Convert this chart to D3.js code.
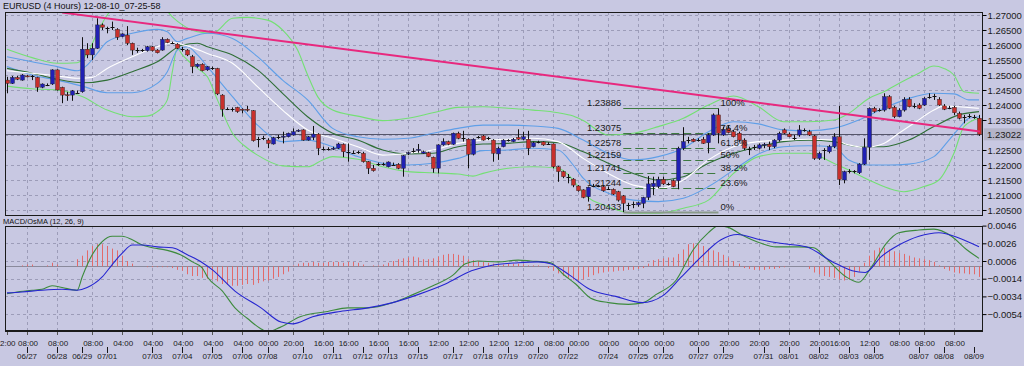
<!DOCTYPE html>
<html>
<head>
<meta charset="utf-8">
<script src="https://cdn.jsdelivr.net/npm/d3@7"></script>
<style>
  body { margin: 0; background: #c8c8e2; }
  svg { display: block; font-family: "Liberation Sans", Arial, sans-serif; }
</style>
</head>
<body>
<svg width="1024" height="366"></svg>
<script>
// ---- data (EURUSD, 4 hour candles) ----
const candleOpen = [
  1.2483,1.2472,1.2492,1.2483,1.2497,1.2497,1.2492,1.2459,1.2468,1.2470,
  1.2517,1.2459,1.2434,1.2433,1.2442,1.2444,1.2586,1.2567,1.2589,1.2667,
  1.2659,1.2661,1.2652,1.2628,1.2633,1.2606,1.2584,1.2583,1.2581,1.2594,
  1.2583,1.2583,1.2619,1.2608,1.2603,1.2587,1.2583,1.2561,1.2528,1.2536,
  1.2517,1.2523,1.2522,1.2433,1.2389,1.2389,1.2392,1.2386,1.2386,1.2381,
  1.2289,1.2292,1.2283,1.2270,1.2292,1.2294,1.2294,1.2300,1.2314,1.2317,
  1.2283,1.2292,1.2303,1.2253,1.2252,1.2254,1.2256,1.2269,1.2244,1.2242,
  1.2241,1.2239,1.2211,1.2189,1.2203,1.2202,1.2194,1.2202,1.2202,1.2189,
  1.2239,1.2247,1.2250,1.2239,1.2241,1.2226,1.2189,1.2267,1.2278,1.2269,
  1.2306,1.2290,1.2286,1.2236,1.2291,1.2297,1.2288,1.2283,1.2237,1.2261,
  1.2281,1.2278,1.2292,1.2286,1.2286,1.2261,1.2277,1.2277,1.2272,1.2270,
  1.2194,1.2178,1.2161,1.2153,1.2130,1.2117,1.2094,1.2130,1.2130,1.2128,
  1.2122,1.2119,1.2111,1.2097,1.2067,1.2070,1.2067,1.2072,1.2092,1.2128,
  1.2128,1.2152,1.2137,1.2148,1.2148,1.2256,1.2282,1.2286,1.2283,1.2286,
  1.2274,1.2300,1.2367,1.2300,1.2322,1.2311,1.2306,1.2283,1.2252,1.2259,
  1.2256,1.2267,1.2269,1.2261,1.2283,1.2317,1.2303,1.2292,1.2300,1.2317,
  1.2311,1.2297,1.2222,1.2250,1.2244,1.2261,1.2294,1.2150,1.2178,1.2178,
  1.2174,1.2203,1.2259,1.2389,1.2382,1.2383,1.2428,1.2392,1.2361,1.2383,
  1.2419,1.2397,1.2400,1.2400,1.2427,1.2429,1.2419,1.2397,1.2392,1.2392,
  1.2372,1.2361,1.2363,1.2361,1.2356
];
const candleHigh = [
  1.2494,1.2497,1.2497,1.2503,1.2500,1.2500,1.2494,1.2472,1.2472,1.2519,
  1.2519,1.2461,1.2444,1.2450,1.2448,1.2626,1.2606,1.2606,1.2689,1.2672,
  1.2661,1.2678,1.2656,1.2639,1.2663,1.2608,1.2591,1.2587,1.2597,1.2597,
  1.2586,1.2626,1.2622,1.2611,1.2606,1.2594,1.2586,1.2567,1.2539,1.2539,
  1.2530,1.2528,1.2524,1.2436,1.2392,1.2392,1.2394,1.2389,1.2397,1.2383,
  1.2294,1.2297,1.2289,1.2294,1.2300,1.2311,1.2308,1.2322,1.2319,1.2319,
  1.2297,1.2330,1.2306,1.2261,1.2259,1.2261,1.2274,1.2272,1.2272,1.2248,
  1.2248,1.2244,1.2213,1.2200,1.2208,1.2208,1.2212,1.2208,1.2206,1.2233,
  1.2244,1.2256,1.2270,1.2248,1.2244,1.2228,1.2269,1.2289,1.2281,1.2308,
  1.2311,1.2314,1.2289,1.2289,1.2297,1.2300,1.2294,1.2286,1.2261,1.2286,
  1.2286,1.2290,1.2319,1.2311,1.2314,1.2278,1.2281,1.2279,1.2276,1.2272,
  1.2197,1.2181,1.2170,1.2156,1.2133,1.2119,1.2128,1.2137,1.2134,1.2132,
  1.2128,1.2122,1.2114,1.2100,1.2074,1.2078,1.2078,1.2094,1.2163,1.2161,
  1.2161,1.2161,1.2141,1.2152,1.2261,1.2326,1.2294,1.2289,1.2289,1.2294,
  1.2306,1.2372,1.23886,1.2328,1.2333,1.2317,1.2311,1.2289,1.2261,1.2267,
  1.2272,1.2274,1.2278,1.2286,1.2311,1.2322,1.2308,1.2300,1.2333,1.2322,
  1.2317,1.2300,1.2244,1.2256,1.2267,1.2306,1.2397,1.2181,1.2186,1.2183,
  1.2206,1.2289,1.2392,1.2394,1.2389,1.2439,1.2433,1.2397,1.2389,1.2426,
  1.2426,1.2406,1.2406,1.2426,1.2439,1.2437,1.2426,1.2403,1.2397,1.2397,
  1.2378,1.2367,1.2370,1.2367,1.2367
];
const candleLow = [
  1.2439,1.2470,1.2483,1.2481,1.2492,1.2483,1.2444,1.2456,1.2463,1.2467,
  1.2448,1.2406,1.2414,1.2414,1.2437,1.2441,1.2556,1.2550,1.2587,1.2650,
  1.2639,1.2650,1.2617,1.2626,1.2600,1.2567,1.2574,1.2577,1.2578,1.2578,
  1.2572,1.2581,1.2606,1.2603,1.2586,1.2578,1.2563,1.2506,1.2524,1.2512,
  1.2514,1.2517,1.2433,1.2361,1.2383,1.2378,1.2374,1.2372,1.2378,1.2278,
  1.2259,1.2283,1.2256,1.2268,1.2286,1.2272,1.2292,1.2298,1.2310,1.2281,
  1.2281,1.2283,1.2233,1.2248,1.2248,1.2250,1.2253,1.2226,1.2211,1.2237,
  1.2237,1.2208,1.2170,1.2178,1.2197,1.2198,1.2192,1.2197,1.2186,1.2161,
  1.2233,1.2241,1.2241,1.2237,1.2226,1.2174,1.2172,1.2264,1.2266,1.2267,
  1.2286,1.2278,1.2189,1.2232,1.2288,1.2281,1.2283,1.2211,1.2217,1.2259,
  1.2278,1.2276,1.2283,1.2283,1.2233,1.2259,1.2272,1.2264,1.2269,1.2189,
  1.2144,1.2156,1.2139,1.2126,1.2111,1.2089,1.2078,1.2126,1.2126,1.2111,
  1.2117,1.2100,1.2078,1.20433,1.2050,1.2056,1.2061,1.2056,1.2083,1.2100,
  1.2122,1.2133,1.2132,1.2126,1.2119,1.2250,1.2272,1.2276,1.2278,1.2270,
  1.2239,1.2297,1.2272,1.2297,1.2306,1.2292,1.2278,1.2250,1.2233,1.2250,
  1.2252,1.2256,1.2250,1.2256,1.2278,1.2303,1.2292,1.2283,1.2294,1.2311,
  1.2297,1.2217,1.2217,1.2217,1.2239,1.2256,1.2133,1.2139,1.2172,1.2172,
  1.2170,1.2200,1.2217,1.2374,1.2378,1.2378,1.2386,1.2356,1.2359,1.2378,
  1.2392,1.2389,1.2386,1.2397,1.2421,1.2417,1.2397,1.2383,1.2386,1.2367,
  1.2352,1.2339,1.2356,1.2354,1.2297
];
const candleClose = [
  1.2472,1.2492,1.2486,1.2500,1.2494,1.2496,1.2459,1.2470,1.2467,1.2517,
  1.2450,1.2433,1.2432,1.2447,1.2441,1.2586,1.2567,1.2589,1.2667,1.2659,
  1.2658,1.2660,1.2626,1.2637,1.2606,1.2583,1.2583,1.2582,1.2594,1.2581,
  1.2574,1.2619,1.2608,1.2607,1.2589,1.2586,1.2567,1.2528,1.2536,1.2514,
  1.2528,1.2522,1.2437,1.2386,1.2388,1.2388,1.2378,1.2384,1.2384,1.2281,
  1.2288,1.2291,1.2272,1.2291,1.2293,1.2296,1.2306,1.2311,1.2316,1.2283,
  1.2294,1.2303,1.2256,1.2252,1.2253,1.2256,1.2270,1.2244,1.2243,1.2241,
  1.2242,1.2211,1.2189,1.2181,1.2202,1.2203,1.2210,1.2201,1.2189,1.2231,
  1.2241,1.2248,1.2252,1.2244,1.2228,1.2189,1.2267,1.2278,1.2269,1.2306,
  1.2289,1.2289,1.2236,1.2286,1.2292,1.2283,1.2289,1.2239,1.2256,1.2283,
  1.2282,1.2286,1.2286,1.2294,1.2256,1.2274,1.2278,1.2267,1.2271,1.2194,
  1.2178,1.2161,1.2160,1.2133,1.2114,1.2092,1.2126,1.2131,1.2131,1.2114,
  1.2121,1.2103,1.2083,1.2072,1.2068,1.2071,1.2074,1.2092,1.2137,1.2139,
  1.2152,1.2137,1.2136,1.2128,1.2256,1.2278,1.2283,1.2278,1.2284,1.2272,
  1.2300,1.2367,1.2306,1.2319,1.2308,1.2294,1.2283,1.2256,1.2253,1.2260,
  1.2267,1.2269,1.2261,1.2283,1.2306,1.2306,1.2294,1.2291,1.2317,1.2316,
  1.2300,1.2222,1.2239,1.2249,1.2261,1.2294,1.2152,1.2178,1.2179,1.2179,
  1.2203,1.2259,1.2389,1.2378,1.2383,1.2428,1.2389,1.2361,1.2383,1.2419,
  1.2394,1.2398,1.2389,1.2422,1.2428,1.2430,1.2400,1.2386,1.2391,1.2374,
  1.2356,1.2360,1.2362,1.2360,1.23022
];

// bands: [candle index, price]
const outerUpper = [[0,1.2586],[5,1.2558],[10,1.2539],[14,1.2541],[16,1.2572],[18,1.2639],[20,1.2700],[23,1.2733],[28,1.2744],[31,1.2728],[33,1.2694],[35,1.2667],[38,1.2644],[41,1.2639],[45,1.2689],[48,1.2692],[52,1.2683],[55,1.2650],[58,1.2583],[60,1.2500],[62,1.2428],[65,1.2383],[70,1.2363],[75,1.2348],[80,1.2356],[85,1.2374],[90,1.2392],[95,1.2394],[100,1.2389],[105,1.2383],[110,1.2374],[113,1.2363],[115,1.2348],[120,1.2300],[125,1.2306],[130,1.2328],[135,1.2356],[140,1.2400],[145,1.2430],[150,1.2394],[155,1.2344],[160,1.2344],[165,1.2350],[168,1.2372],[172,1.2422],[175,1.2444],[178,1.2472],[182,1.2506],[185,1.2530],[187,1.2522],[189,1.2500],[191,1.2444],[194,1.2439]];
const outerLower = [[0,1.2463],[5,1.2454],[10,1.2450],[15,1.2428],[20,1.2383],[25,1.2361],[28,1.2363],[30,1.2378],[32,1.2417],[33,1.2511],[34,1.2589],[35,1.2567],[36,1.2550],[38,1.2522],[40,1.2494],[42,1.2417],[45,1.2306],[48,1.2256],[50,1.2233],[55,1.2197],[60,1.2194],[63,1.2217],[65,1.2228],[70,1.2219],[75,1.2194],[80,1.2178],[85,1.2174],[90,1.2170],[93,1.2163],[95,1.2172],[100,1.2189],[105,1.2194],[110,1.2189],[113,1.2150],[115,1.2106],[120,1.2061],[125,1.2039],[130,1.2039],[135,1.2056],[140,1.2083],[145,1.2172],[150,1.2228],[155,1.2239],[160,1.2239],[165,1.2206],[168,1.2183],[172,1.2150],[176,1.2122],[179,1.2111],[183,1.2128],[186,1.2150],[189,1.2239],[191,1.2328],[194,1.2356]];
const innerUpper = [[0,1.2561],[5,1.2544],[10,1.2528],[14,1.2514],[16,1.2533],[18,1.2572],[20,1.2611],[25,1.2639],[30,1.2652],[32,1.2644],[34,1.2611],[36,1.2622],[40,1.2639],[45,1.2622],[50,1.2561],[55,1.2483],[60,1.2417],[65,1.2322],[70,1.2294],[75,1.2286],[80,1.2289],[85,1.2306],[90,1.2322],[95,1.2333],[100,1.2333],[105,1.2330],[110,1.2322],[115,1.2283],[120,1.2239],[125,1.2217],[130,1.2228],[135,1.2256],[140,1.2311],[145,1.2344],[150,1.2337],[155,1.2317],[160,1.2314],[165,1.2322],[170,1.2350],[175,1.2389],[180,1.2422],[185,1.2439],[189,1.2437],[192,1.2417],[194,1.2417]];
const innerLower = [[0,1.2528],[5,1.2500],[10,1.2483],[15,1.2463],[20,1.2441],[25,1.2441],[30,1.2472],[32,1.2511],[34,1.2583],[36,1.2594],[38,1.2567],[40,1.2528],[45,1.2428],[50,1.2333],[55,1.2278],[60,1.2283],[65,1.2261],[70,1.2228],[75,1.2206],[80,1.2200],[85,1.2206],[90,1.2222],[95,1.2248],[100,1.2250],[105,1.2256],[110,1.2250],[113,1.2200],[115,1.2156],[120,1.2106],[125,1.2083],[130,1.2078],[135,1.2089],[140,1.2128],[145,1.2183],[150,1.2237],[155,1.2261],[160,1.2264],[165,1.2261],[168,1.2217],[172,1.2200],[176,1.2200],[180,1.2203],[185,1.2228],[188,1.2283],[190,1.2322],[192,1.2356],[194,1.2361]];
const fastMA = [[0,1.2514],[5,1.2506],[10,1.2497],[14,1.2489],[17,1.2492],[20,1.2522],[25,1.2561],[30,1.2594],[33,1.2608],[36,1.2597],[40,1.2572],[45,1.2539],[50,1.2461],[55,1.2383],[60,1.2317],[65,1.2289],[70,1.2261],[75,1.2233],[80,1.2239],[85,1.2250],[90,1.2272],[95,1.2283],[100,1.2286],[105,1.2289],[110,1.2278],[115,1.2222],[120,1.2172],[125,1.2133],[130,1.2122],[135,1.2150],[140,1.2217],[145,1.2261],[150,1.2278],[155,1.2283],[160,1.2286],[165,1.2283],[168,1.2267],[171,1.2259],[175,1.2272],[178,1.2306],[181,1.2339],[185,1.2383],[187,1.2397],[190,1.2394],[194,1.2389]];
const slowMA = [[0,1.2522],[5,1.2506],[10,1.2486],[15,1.2474],[20,1.2483],[25,1.2511],[30,1.2544],[35,1.2600],[38,1.2606],[40,1.2594],[45,1.2567],[50,1.2517],[55,1.2439],[60,1.2361],[65,1.2306],[70,1.2283],[75,1.2250],[80,1.2237],[85,1.2239],[90,1.2261],[95,1.2270],[100,1.2272],[105,1.2278],[110,1.2274],[115,1.2244],[120,1.2206],[125,1.2172],[130,1.2150],[135,1.2161],[140,1.2206],[145,1.2239],[150,1.2261],[155,1.2278],[160,1.2283],[165,1.2278],[170,1.2261],[175,1.2261],[180,1.2283],[185,1.2328],[190,1.2367],[194,1.2378]];

// trend line and fibonacci retracement
const trendLine = [[11, 1.2708], [194.2, 1.2312]];
const fibRange = [123, 142];
const fibPercent = ["0%", "23.6%", "38.2%", "50%", "61.8%", "76.4%", "100%"];
const fibPrice = [1.20433, 1.21244, 1.21741, 1.22159, 1.22578, 1.23075, 1.23886];
const lastPrice = 1.23022;

// MACD / OsMA (12, 26, 9)
const osma = [
  0,0,0,0.0001,0.0002,0.0002,0,0,0.0001,0.0004,
  0.0002,0,0,0,0.0008,0.0012,0.0018,0.0023,0.0025,0.0025,
  0.0023,0.0020,0.0018,0.0012,0.0006,0.0003,0,0,-0.0001,-0.0001,
  -0.0001,-0.0001,-0.0001,-0.0002,-0.0004,-0.0005,-0.0009,-0.0011,-0.0011,-0.0013,
  -0.0014,-0.0015,-0.0017,-0.0020,-0.0021,-0.0022,-0.0022,-0.0021,-0.0020,-0.0021,
  -0.0019,-0.0017,-0.0016,-0.0014,-0.0012,-0.0009,-0.0006,0.0001,0.0003,0.0004,
  0.0004,0.0005,0.0004,0.0004,0.0005,0.0005,0.0005,0.0004,0.0005,0.0005,
  0.0004,0.0002,0,0.0001,0.0001,0.0002,0.0004,0.0006,0.0008,0.0009,
  0.0010,0.0011,0.0010,0.0008,0.0008,0.0009,0.0011,0.0013,0.0014,0.0014,
  0.0013,0.0012,0.0008,0.0007,0.0006,0.0005,0.0004,0.0003,0.0002,0.0002,
  0.0003,0.0003,0.0003,0.0002,0.0001,0.0001,0.0001,0,-0.0002,-0.0005,
  -0.0008,-0.0011,-0.0013,-0.0015,-0.0016,-0.0015,-0.0012,-0.0010,-0.0008,-0.0007,
  -0.0006,-0.0006,-0.0005,-0.0005,-0.0004,-0.0004,-0.0003,-0.0002,0.0003,0.0007,
  0.0008,0.0009,0.0010,0.0010,0.0014,0.0019,0.0025,0.0026,0.0025,0.0023,
  0.0020,0.0018,0.0016,0.0013,0.0010,0.0006,0.0003,-0.0002,-0.0003,-0.0004,
  -0.0004,-0.0004,-0.0003,-0.0003,-0.0002,-0.0001,0,0,0,0,
  -0.0003,-0.0007,-0.0009,-0.0011,-0.0012,-0.0013,-0.0015,-0.0016,-0.0015,-0.0012,
  -0.0006,0.0004,0.0012,0.0018,0.0021,0.0021,0.0019,0.0017,0.0015,0.0014,
  0.0012,0.0010,0.0009,0.0008,0.0007,0.0005,0.0001,-0.0003,-0.0005,-0.0007,
  -0.0008,-0.0008,-0.0009,-0.0009,-0.0012
];
const macdMain = [[0,-0.0031],[2,-0.0029],[5,-0.0027],[7,-0.0026],[9,-0.0022],[11,-0.0024],[14,-0.0027],[15,-0.0012],[17,0.0013],[19,0.0028],[21,0.0034],[23,0.0034],[25,0.0030],[27,0.0024],[29,0.0021],[32,0.0018],[35,0.0012],[37,0.0005],[39,-0.0002],[40,-0.0012],[43,-0.0028],[45.5,-0.0047],[48,-0.0059],[50.5,-0.0070],[52,-0.0074],[54.5,-0.0069],[58.5,-0.0057],[64,-0.0051],[68,-0.0047],[72,-0.0047],[77,-0.0041],[81,-0.0032],[85,-0.0022],[89,-0.0010],[91.5,0.0003],[94,0.0006],[98,0.0005],[102,0.0007],[104.5,0.0006],[108.5,0.0004],[111,-0.0009],[113.5,-0.0020],[116.5,-0.0036],[120,-0.0041],[124,-0.0043],[127,-0.0041],[129.5,-0.0032],[133.5,-0.0016],[137,0.0019],[140,0.0038],[142,0.0046],[144,0.0044],[146.5,0.0036],[150.5,0.0026],[153.5,0.0022],[158,0.0022],[161,0.0021],[163.5,0.0009],[167.5,-0.0012],[170,-0.0018],[172.5,-0.0001],[175.5,0.0026],[178,0.0038],[182,0.0041],[185,0.0042],[188.5,0.0034],[191.5,0.0019],[194,0.0009]];
const macdSignal = [[0,-0.0030],[3,-0.0029],[7,-0.0027],[11,-0.0026],[14,-0.0027],[16,-0.0024],[19,-0.0012],[21,0.0002],[23,0.0015],[25,0.0024],[27,0.0024],[30,0.0022],[33,0.0021],[36,0.0013],[39,0.0004],[41,-0.0004],[45.5,-0.0028],[50.7,-0.0047],[54.7,-0.0063],[57,-0.0065],[61,-0.0057],[66.5,-0.0051],[72,-0.0047],[77,-0.0041],[82,-0.0032],[87.5,-0.0020],[92.7,-0.0005],[96.6,0.0001],[102,0.0004],[106,0.0005],[108.5,0.0003],[112.3,-0.0010],[116.3,-0.0026],[121.5,-0.0034],[126.8,-0.0041],[130.7,-0.0034],[134.6,-0.0012],[138.6,0.0011],[142.5,0.0030],[145.8,0.0036],[150.4,0.0030],[154.3,0.0026],[159.5,0.0022],[164.8,0.0005],[168.7,-0.0005],[171.3,-0.0007],[174.5,0.0011],[178,0.0024],[182,0.0034],[186,0.0038],[190,0.0032],[194,0.0022]];

// axis labels
const priceTicks = [1.27, 1.265, 1.26, 1.255, 1.25, 1.245, 1.24, 1.235, 1.225, 1.22, 1.215, 1.21, 1.205];
const macdTicks = [0.0046, 0.0026, 0.0006, -0.0014, -0.0034, -0.0054];
const timeLabels = ["2:00","08:00","08:00","08:00","04:00","04:00","04:00","04:00","04:00","00:00","20:00","16:00","16:00","16:00","16:00","12:00","12:00","12:00","12:00","08:00","00:00","00:00","00:00","00:00","00:00","20:00","20:00","20:00","20:00","16:00","12:00","08:00","08:00","08:00"];
const timeIdx = [0,4,10,17,23,29,35,41,47,52,57,63,68,74,80,86,92,98,103,109,114,120,126,131,138,144,150,156,162,166,172,178,183,189];
const dateLabels = ["06/27","06/28","06/29","07/01","07/03","07/04","07/05","07/06","07/08","07/10","07/11","07/12","07/13","07/15","07/17","07/18","07/19","07/20","07/22","07/24","07/25","07/26","07/27","07/29","07/31","08/01","08/02","08/03","08/05","08/07","08/08","08/09"];
const dateIdx = [4,10,15,20,29,35,41,47,52,59,65,71,76,82,89,95,100,106,112,120,126,131,138,143,151,156,162,168,173,182,187,193];

// ---- layout ----
const svg = d3.select("svg");
const L = 5, R = 982;
const mainTop = 12, mainBottom = 215;
const macdTop = 226, macdBottom = 330;

const x = d3.scaleLinear().domain([0, 194]).range([7, 979]);
const y = d3.scaleLinear().domain([1.203333, 1.27]).range([215, 15]);
const ym = d3.scaleLinear().domain([-0.0054, 0.0046]).range([314.1, 225.6]);
const px = i => Math.round(x(i)) + 0.5;

const defs = svg.append("defs");
defs.append("clipPath").attr("id", "clipMain").append("rect")
  .attr("x", L).attr("y", mainTop).attr("width", R - L).attr("height", mainBottom - mainTop);
defs.append("clipPath").attr("id", "clipMacd").append("rect")
  .attr("x", L).attr("y", macdTop).attr("width", R - L).attr("height", macdBottom - macdTop);

svg.append("rect").attr("width", 1024).attr("height", 366).attr("fill", "#c8c8e2");

// grid
const grid = svg.append("g").attr("stroke", "#9c9cb8").attr("stroke-dasharray", "3,3").attr("stroke-width", 1);
grid.selectAll(".hg").data(priceTicks.concat([1.23])).enter().append("line")
  .attr("x1", L).attr("x2", R)
  .attr("y1", d => Math.round(y(d)) + 0.5).attr("y2", d => Math.round(y(d)) + 0.5);
grid.selectAll(".mg").data(macdTicks.filter(d => d < 0.004)).enter().append("line")
  .attr("x1", L).attr("x2", R)
  .attr("y1", d => Math.round(ym(d)) + 0.5).attr("y2", d => Math.round(ym(d)) + 0.5);
grid.selectAll(".vg").data(timeIdx.slice(1)).enter().append("line")
  .attr("x1", d => px(d)).attr("x2", d => px(d)).attr("y1", mainTop).attr("y2", mainBottom);
grid.selectAll(".vg2").data(timeIdx.slice(1)).enter().append("line")
  .attr("x1", d => px(d)).attr("x2", d => px(d)).attr("y1", macdTop).attr("y2", macdBottom);

// ---- main chart ----
const main = svg.append("g").attr("clip-path", "url(#clipMain)");
const line = d3.line().x(d => x(d[0])).y(d => y(d[1])).curve(d3.curveMonotoneX);

main.append("line")
  .attr("x1", L).attr("x2", R)
  .attr("y1", Math.round(y(lastPrice)) + 0.5).attr("y2", Math.round(y(lastPrice)) + 0.5)
  .attr("stroke", "#55556a").attr("stroke-width", 1);

[[outerUpper, "#74e074"], [outerLower, "#74e074"], [innerUpper, "#5f9fe8"], [innerLower, "#5f9fe8"],
 [slowMA, "#2f6e36"], [fastMA, "#ffffff"]].forEach(([data, color]) => {
  main.append("path").datum(data).attr("d", line)
    .attr("fill", "none").attr("stroke", color).attr("stroke-width", 1.1);
});

// fibonacci
const fib = main.append("g");
const fx1 = x(fibRange[0]), fx2 = x(fibRange[1]);
fib.selectAll("line").data(fibPrice).enter().append("line")
  .attr("x1", fx1).attr("x2", fx2)
  .attr("y1", d => Math.round(y(d)) + 0.5).attr("y2", d => Math.round(y(d)) + 0.5)
  .attr("stroke", (d, i) => i === 0 ? "#8a9a8a" : "#3d7a40")
  .attr("stroke-width", (d, i) => i === 0 ? 2 : 1)
  .attr("stroke-dasharray", (d, i) => (i === 0 || i === 6) ? null : "8,4");

// candles
const candles = main.append("g");
d3.range(candleOpen.length).forEach(i => {
  const o = candleOpen[i], h = candleHigh[i], l = candleLow[i], c = candleClose[i];
  const cx = px(i);
  candles.append("line")
    .attr("x1", cx).attr("x2", cx).attr("y1", y(h)).attr("y2", y(l))
    .attr("stroke", "#111").attr("stroke-width", 1);
  const doji = Math.abs(c - o) < 0.00015;
  const top = y(Math.max(o, c)), bot = y(Math.min(o, c));
  if (doji) {
    candles.append("line")
      .attr("x1", cx - 2).attr("x2", cx + 2)
      .attr("y1", Math.round(y(c)) + 0.5).attr("y2", Math.round(y(c)) + 0.5)
      .attr("stroke", "#111");
  } else {
    candles.append("rect")
      .attr("x", cx - 2).attr("width", 4)
      .attr("y", top).attr("height", Math.max(1, bot - top))
      .attr("fill", c > o ? "#2020b4" : "#c8302c")
      .attr("stroke", "#222").attr("stroke-width", 0.4);
  }
});

// trend line
main.append("path").datum(trendLine).attr("d", d3.line().x(d => x(d[0])).y(d => y(d[1])))
  .attr("stroke", "#e8287e").attr("stroke-width", 2).attr("fill", "none");

// fib labels
const fibText = svg.append("g").attr("font-size", 9.5).attr("fill", "#1a1a1a");
fibText.selectAll(".fp").data(fibPrice).enter().append("text")
  .attr("x", fx1 - 2).attr("y", d => y(d) - 2).attr("text-anchor", "end")
  .text(d => d.toFixed(5));
fibText.selectAll(".fq").data(fibPrice).enter().append("text")
  .attr("x", fx2 + 2).attr("y", (d, i) => y(d) - 2)
  .text((d, i) => fibPercent[i]);

// ---- MACD panel ----
const macd = svg.append("g").attr("clip-path", "url(#clipMacd)");
macd.append("line").attr("x1", L).attr("x2", R)
  .attr("y1", Math.round(ym(0)) + 0.5).attr("y2", Math.round(ym(0)) + 0.5)
  .attr("stroke", "#8a8a9c");
macd.selectAll(".bar").data(osma).enter().append("line")
  .attr("x1", (d, i) => px(i)).attr("x2", (d, i) => px(i))
  .attr("y1", ym(0)).attr("y2", d => ym(d))
  .attr("stroke", "#e26a6a").attr("stroke-width", 1);
const mline = d3.line().x(d => x(d[0])).y(d => ym(d[1])).curve(d3.curveMonotoneX);
macd.append("path").datum(macdMain).attr("d", mline).attr("fill", "none").attr("stroke", "#3c8a3c").attr("stroke-width", 1.1);
macd.append("path").datum(macdSignal).attr("d", mline).attr("fill", "none").attr("stroke", "#2626d0").attr("stroke-width", 1.1);

// ---- frames ----
const frame = svg.append("g").attr("fill", "none").attr("stroke", "#1a1a1a");
frame.append("rect").attr("x", L + 0.5).attr("y", mainTop + 0.5).attr("width", R - L).attr("height", mainBottom - mainTop);
frame.append("rect").attr("x", L + 0.5).attr("y", macdTop + 0.5).attr("width", R - L).attr("height", macdBottom - macdTop);
svg.append("line").attr("x1", L).attr("x2", R + 1).attr("y1", macdBottom + 1).attr("y2", macdBottom + 1)
  .attr("stroke", "#1a1a1a").attr("stroke-width", 2);

// ---- axes ----
const priceAxis = svg.append("g").attr("transform", `translate(${R + 0.5},0)`)
  .call(d3.axisRight(y).tickValues(priceTicks).tickSize(4).tickPadding(1).tickFormat(d3.format(".5f")));
priceAxis.select(".domain").remove();
priceAxis.selectAll("text").attr("font-size", 9.5).attr("fill", "#1a1a1a").attr("font-family", "Liberation Sans, Arial, sans-serif");

const ly = y(lastPrice);
svg.append("rect").attr("x", R + 2).attr("y", ly - 6).attr("width", 40).attr("height", 12).attr("fill", "#b4b4c8");
svg.append("text").attr("x", R + 5).attr("y", ly + 3.5).attr("font-size", 9.5).attr("fill", "#1a1a1a").text(lastPrice.toFixed(5));

const macdAxis = svg.append("g").attr("transform", `translate(${R + 0.5},0)`)
  .call(d3.axisRight(ym).tickValues(macdTicks).tickSize(4).tickPadding(1).tickFormat(d3.format(".4f")));
macdAxis.select(".domain").remove();
macdAxis.selectAll("text").attr("font-size", 9.5).attr("fill", "#1a1a1a").attr("font-family", "Liberation Sans, Arial, sans-serif");

// bottom labels (first label sits flush against the left edge, as in the source)
const bottom = svg.append("g").attr("font-size", 8).attr("fill", "#1a1a1a");
bottom.selectAll(".tl").data(timeLabels).enter().append("text")
  .attr("x", (d, i) => i === 0 ? 0 : x(timeIdx[i]) + 1)
  .attr("text-anchor", (d, i) => i === 0 ? "start" : "middle")
  .attr("y", 345.5).text(d => d);
bottom.selectAll(".dl").data(dateLabels).enter().append("text")
  .attr("x", (d, i) => x(dateIdx[i])).attr("text-anchor", "middle")
  .attr("y", 359).text(d => d);
svg.append("g").selectAll("line").data(dateIdx).enter().append("line")
  .attr("x1", d => px(d)).attr("x2", d => px(d)).attr("y1", 347).attr("y2", 353)
  .attr("stroke", "#1a1a1a");
svg.append("g").selectAll("line").data(timeIdx).enter().append("line")
  .attr("x1", d => px(d)).attr("x2", d => px(d)).attr("y1", 332).attr("y2", 335)
  .attr("stroke", "#555");

// titles
svg.append("text").attr("x", 3).attr("y", 9).attr("font-size", 9).attr("fill", "#111")
  .text("EURUSD (4 Hours) 12-08-10_07-25-58");
svg.append("text").attr("x", 3).attr("y", 223.5).attr("font-size", 7.5).attr("fill", "#111")
  .text("MACD/OsMA (12, 26, 9)");
</script>
</body>
</html>
